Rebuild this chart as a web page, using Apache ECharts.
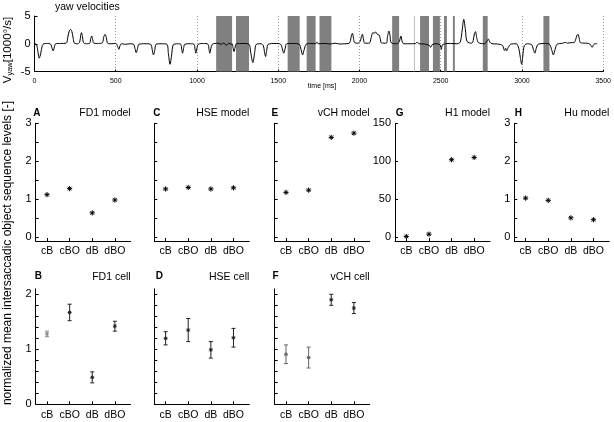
<!DOCTYPE html>
<html><head><meta charset="utf-8">
<script src="https://cdn.jsdelivr.net/npm/echarts@6/dist/echarts.min.js"></script>
<style>html,body{margin:0;padding:0;background:#fff}#c{width:614px;height:422px}</style>
</head><body><div id="c"></div>
<script>
// ---------- DATA ----------
const categories = ['cB', 'cBO', 'dB', 'dBO'];

// yaw velocity trace: time [ms] and value [1000 deg/s]
const traceT = [0,12,20,29,38,48,58,75,100,108,115,122,130,160,195,205,214,222,230,238,246,265,278,284,289,295,302,320,340,346,352,358,365,395,418,426,434,442,450,470,500,512,519,526,535,560,590,610,618,626,634,642,680,715,724,732,740,748,780,815,824,834,844,854,880,900,906,911,917,925,960,982,988,993,999,1008,1040,1068,1074,1079,1085,1094,1110,1130,1150,1165,1180,1195,1210,1216,1222,1228,1235,1243,1280,1320,1330,1344,1355,1365,1395,1408,1415,1422,1430,1438,1480,1515,1525,1534,1543,1552,1590,1630,1640,1650,1660,1672,1700,1730,1738,1746,1790,1820,1850,1880,1910,1935,1945,1950,1957,1963,1970,1990,2005,2012,2018,2024,2032,2060,2072,2082,2090,2100,2110,2120,2128,2135,2165,2172,2181,2188,2195,2230,2245,2255,2262,2272,2320,2345,2355,2365,2400,2430,2438,2446,2470,2496,2504,2510,2530,2560,2600,2620,2630,2642,2652,2662,2690,2700,2707,2714,2722,2732,2770,2785,2793,2802,2815,2850,2880,2892,2900,2905,2915,2930,2965,2980,2990,2998,3005,3015,3035,3060,3070,3079,3088,3100,3150,3170,3182,3193,3204,3216,3250,3269,3280,3300,3320,3330,3338,3345,3352,3360,3390,3410,3425,3432,3440,3450,3463];
const traceV = [0,-0.1,-1.2,-2.6,-1.8,-0.3,0,0.05,-0.1,-0.8,-1.3,-0.6,0,0.05,0.1,1.2,2.3,2.6,2.2,1.0,0.1,0,0.3,1.5,2.0,1.3,0.2,0,0.1,0.9,1.4,0.8,0.1,0.05,0.2,1.2,1.7,1.1,0.1,0,0.05,-0.5,-1.0,-0.4,0,-0.1,0,-0.1,-0.8,-1.6,-0.9,-0.1,0,-0.1,-1.0,-2.0,-1.2,-0.1,0,-0.1,-1.8,-3.7,-2.0,-0.2,0,-0.1,-1.0,-1.7,-0.9,-0.1,0,-0.1,-1.0,-1.7,-0.9,-0.1,0.05,-0.1,-1.0,-1.7,-0.9,-0.1,0.05,0.1,-0.1,0.15,-0.3,0.1,-0.1,0,-0.7,-1.4,-0.6,0,0.05,-0.1,-1.5,-3.4,-1.6,-0.1,0,-0.3,-1.4,-2.3,-1.0,-0.1,0.05,-0.1,-0.9,-1.7,-0.8,0,0.05,-0.1,-1.0,-2.0,-1.0,-0.1,0.05,0,0.3,0,0.05,-0.05,0.1,-0.05,0,0.05,0.6,1.5,1.9,1.0,0.2,0.1,0.5,1.3,1.7,0.9,0.1,0.1,1.1,2.0,1.9,2.1,1.7,1.6,0.9,0.15,0.1,1.2,2.3,1.5,0.2,0,0.4,1.4,0.5,0,0,0.05,0.3,0,-0.05,-0.3,-0.65,-0.2,0,-0.2,-1.0,-0.2,0,0.05,0,0.3,2.0,4.4,2.5,0.4,0.1,0.6,1.8,2.2,1.0,0.2,0,0.5,0.85,0.3,0,-0.05,-0.3,-1.2,-0.8,-1.3,-0.7,-0.1,0,-0.8,-2.5,-3.7,-2.2,-0.3,0,-0.2,-1.0,-1.7,-0.8,-0.1,0.05,-0.1,-1.0,-2.0,-1.0,-0.1,0.1,0.25,0.1,0.2,0.2,0.7,1.5,1.7,1.0,0.2,0.1,0.05,-0.3,-0.65,-0.2,0,0];

// shaded (gray) time intervals [ms]
const shadeStart = [1118,1240,1558,1675,1754,2201,2335,2373,2452,2520,2575,2759,3132];
const shadeEnd   = [1216,1320,1632,1730,1827,2244,2341,2428,2495,2538,2587,2789,3169];

// top row model panels
const fd1Model = [1.12, 1.28, 0.64, 0.98];
const hseModel = [1.27, 1.31, 1.27, 1.30];
const vchModel = [1.18, 1.24, 2.63, 2.74];
const h1Model  = [1, 4, 102, 105];
const huModel  = [1.03, 0.97, 0.51, 0.46];

// bottom row cell panels (mean, error)
const fd1Cell    = [1.28, 1.67, 0.49, 1.42];
const fd1CellErr = [0.05, 0.15, 0.10, 0.09];
const hseCell    = [1.20, 1.35, 0.99, 1.21];
const hseCellErr = [0.12, 0.21, 0.15, 0.17];
const vchCell    = [0.91, 0.85, 1.90, 1.75];
const vchCellErr = [0.17, 0.19, 0.10, 0.10];

// tick values
const timeTicks = [0, 500, 1000, 1500, 2000, 2500, 3000, 3500];
const modelTicks = [0, 0.5, 1, 1.5, 2, 2.5, 3];
const modelLabels = [0, 1, 2, 3];
const h1Ticks = [0, 50, 100, 150];
const cellTicks = [0, 0.2, 0.4, 0.6, 0.8, 1, 1.2, 1.4, 1.6, 1.8, 2];
const cellLabels = [0, 1, 2];

// ---------- CHART ----------
const FONT = '"Liberation Sans", Arial, Helvetica, sans-serif';
const chart = echarts.init(document.getElementById('c'), null, {renderer: 'canvas', width: 614, height: 422});

const colLeft = [35.7, 154.3, 274.7, 395, 514.3];
const PW = 95;
const TOP_R = {top: 123.3, height: 117.7};
const BOT_R = {top: 288.8, height: 115.5};

const grid = [{left: 34.5, top: 16, width: 571.5, height: 55.5}];
colLeft.forEach(l => grid.push({left: l, top: TOP_R.top, width: PW, height: TOP_R.height}));
colLeft.slice(0, 3).forEach(l => grid.push({left: l, top: BOT_R.top, width: PW, height: BOT_R.height}));

const axisLineStyle = {show: true, onZero: false, lineStyle: {color: '#000', width: 1}};
const xAxis = [{
  gridIndex: 0, type: 'value', min: 0, max: 3500, interval: 500,
  axisLine: axisLineStyle,
  axisTick: {show: true, inside: true, length: 2, customValues: timeTicks, lineStyle: {color: '#000'}},
  axisLabel: {fontSize: 7, fontFamily: FONT, color: '#000', margin: 6, customValues: timeTicks, formatter: v => String(v)},
  splitLine: {show: true, lineStyle: {color: '#999', type: [1, 2], width: 1}}
}];
const yAxis = [{
  gridIndex: 0, type: 'value', min: -5, max: 5, interval: 5,
  axisLine: axisLineStyle,
  axisTick: {show: true, inside: true, length: 3, lineStyle: {color: '#000'}},
  axisLabel: {fontSize: 11, fontFamily: FONT, color: '#000', margin: 4, formatter: v => String(v)},
  splitLine: {show: false}
}];

const panels = [
  {vals: fd1Model, ymin: -0.1, ymax: 3, ticks: modelTicks, labels: modelLabels, letter: 'A', title: 'FD1 model'},
  {vals: hseModel, ymin: -0.1, ymax: 3, ticks: modelTicks, labels: null, letter: 'C', title: 'HSE model'},
  {vals: vchModel, ymin: -0.1, ymax: 3, ticks: modelTicks, labels: null, letter: 'E', title: 'vCH model'},
  {vals: h1Model, ymin: -5, ymax: 150, ticks: h1Ticks, labels: h1Ticks, letter: 'G', title: 'H1 model'},
  {vals: huModel, ymin: -0.1, ymax: 3, ticks: modelTicks, labels: modelLabels, letter: 'H', title: 'Hu model'},
  {vals: fd1Cell, err: fd1CellErr, ymin: 0, ymax: 2.1, ticks: cellTicks, labels: cellLabels, letter: 'B', title: 'FD1 cell', colors: ['#8a8a8a', '#222', '#222', '#222']},
  {vals: hseCell, err: hseCellErr, ymin: 0, ymax: 2.1, ticks: cellTicks, labels: null, letter: 'D', title: 'HSE cell', colors: ['#222', '#222', '#222', '#222']},
  {vals: vchCell, err: vchCellErr, ymin: 0, ymax: 2.1, ticks: cellTicks, labels: null, letter: 'F', title: 'vCH cell', colors: ['#666', '#666', '#222', '#222']}
];

const series = [];

// shaded intervals
series.push({
  type: 'custom', xAxisIndex: 0, yAxisIndex: 0, silent: true, z: 1,
  data: shadeStart.map((s, i) => [s, shadeEnd[i]]),
  renderItem: (params, api) => {
    const p1 = api.coord([api.value(0), 5]);
    const p2 = api.coord([api.value(1), -5]);
    const narrow = (api.value(1) - api.value(0)) < 10;
    return {type: 'rect', shape: {x: p1[0], y: p1[1], width: Math.max(p2[0] - p1[0], 0.8), height: p2[1] - p1[1]},
      style: {fill: narrow ? '#b8b8b8' : '#808080'}};
  }
});
// trace
series.push({
  type: 'line', xAxisIndex: 0, yAxisIndex: 0, z: 5, symbol: 'none', smooth: 0.3,
  data: traceT.map((t, i) => [t, traceV[i]]),
  lineStyle: {color: '#000', width: 1}
});

function starShapes(p, r, color, lw) {
  const d = r * 0.7;
  return [[-r, 0, r, 0], [0, -r, 0, r], [-d, -d, d, d], [-d, d, d, -d]].map(s => ({
    type: 'line', shape: {x1: p[0] + s[0], y1: p[1] + s[1], x2: p[0] + s[2], y2: p[1] + s[3]},
    style: {stroke: color, lineWidth: lw}
  }));
}

panels.forEach((pn, k) => {
  const gi = k + 1;
  xAxis.push({
    gridIndex: gi, type: 'value', min: 0.5, max: 4.7,
    axisLine: axisLineStyle,
    axisTick: {show: true, inside: true, length: 3, customValues: [1, 2, 3, 4], lineStyle: {color: '#000'}},
    axisLabel: {show: true, customValues: [1, 2, 3, 4], formatter: v => categories[Math.round(v) - 1],
      fontSize: 10.5, fontFamily: FONT, color: '#000', margin: 5},
    splitLine: {show: false}
  });
  yAxis.push({
    gridIndex: gi, type: 'value', min: pn.ymin, max: pn.ymax,
    axisLine: axisLineStyle,
    axisTick: {show: true, inside: true, length: 3, customValues: pn.ticks, lineStyle: {color: '#000'}},
    axisLabel: pn.labels ? {show: true, customValues: pn.labels, fontSize: 11, fontFamily: FONT, color: '#000', margin: 4, formatter: v => String(v)}
                          : {show: false},
    splitLine: {show: false}
  });
  const isCell = !!pn.err;
  series.push({
    type: 'custom', xAxisIndex: gi, yAxisIndex: gi, z: 5,
    data: pn.vals.map((v, i) => [i + 1, v, isCell ? pn.err[i] : 0, i]),
    renderItem: (params, api) => {
      const x = api.value(0), v = api.value(1), e = api.value(2), idx = api.value(3);
      const p = api.coord([x, v]);
      const color = isCell ? pn.colors[idx] : '#000';
      const children = starShapes(p, isCell ? 2 : 2.6, color, 1);
      if (isCell) {
        const a = api.coord([x, v + e]);
        const b = api.coord([x, v - e]);
        const st = {stroke: color, lineWidth: 1};
        children.push({type: 'line', shape: {x1: a[0], y1: a[1], x2: b[0], y2: b[1]}, style: st});
        children.push({type: 'line', shape: {x1: a[0] - 2, y1: a[1], x2: a[0] + 2, y2: a[1]}, style: st});
        children.push({type: 'line', shape: {x1: b[0] - 2, y1: b[1], x2: b[0] + 2, y2: b[1]}, style: st});
      }
      return {type: 'group', children};
    }
  });
});

// texts
const graphic = [];
function txt(x, y, text, size, opts) {
  opts = opts || {};
  graphic.push({
    type: 'text', x: x, y: y, rotation: opts.rot || 0, silent: true,
    style: Object.assign({
      text: text, fontSize: size, fontFamily: FONT, fontWeight: opts.bold ? 'bold' : 'normal',
      fill: '#000', textAlign: opts.align || 'left', textVerticalAlign: 'middle',
      align: opts.align || 'left', verticalAlign: 'middle'
    }, opts.extra || {})
  });
}
txt(55, 7, 'yaw velocities', 10.5);
txt(322, 86, 'time [ms]', 7, {align: 'center'});
// V_yaw label
graphic.push({
  type: 'text', x: 8, y: 50, rotation: Math.PI / 2, silent: true,
  style: {
    text: '{v|V}{s|yaw}{n|[1000°/s]}',
    align: 'center', verticalAlign: 'middle', textAlign: 'center', textVerticalAlign: 'middle',
    rich: {
      v: {fontSize: 11.5, fontFamily: FONT, fill: '#000', lineHeight: 12},
      s: {fontSize: 7.5, fontFamily: FONT, fill: '#000', verticalAlign: 'bottom', lineHeight: 7, padding: [6, 0, 0, 0]},
      n: {fontSize: 11.5, fontFamily: FONT, fill: '#000', lineHeight: 12}
    }
  }
});
txt(8, 253, 'normalized mean intersaccadic object sequence levels [-]', 12, {align: 'center', rot: Math.PI / 2});

const letterX = [33.3, 153.2, 271.6, 395.8, 514.8, 34.8, 155.8, 272.6];
panels.forEach((pn, k) => {
  const g = grid[k + 1];
  const ty = k < 5 ? 113.3 : 276.7;
  txt(letterX[k], ty, pn.letter, 10, {bold: true});
  txt(g.left + g.width, ty, pn.title, 10.5, {align: 'right'});
});

chart.setOption({
  animation: false,
  backgroundColor: '#fff',
  grid: grid,
  xAxis: xAxis,
  yAxis: yAxis,
  series: series,
  graphic: graphic
});
</script></body></html>
